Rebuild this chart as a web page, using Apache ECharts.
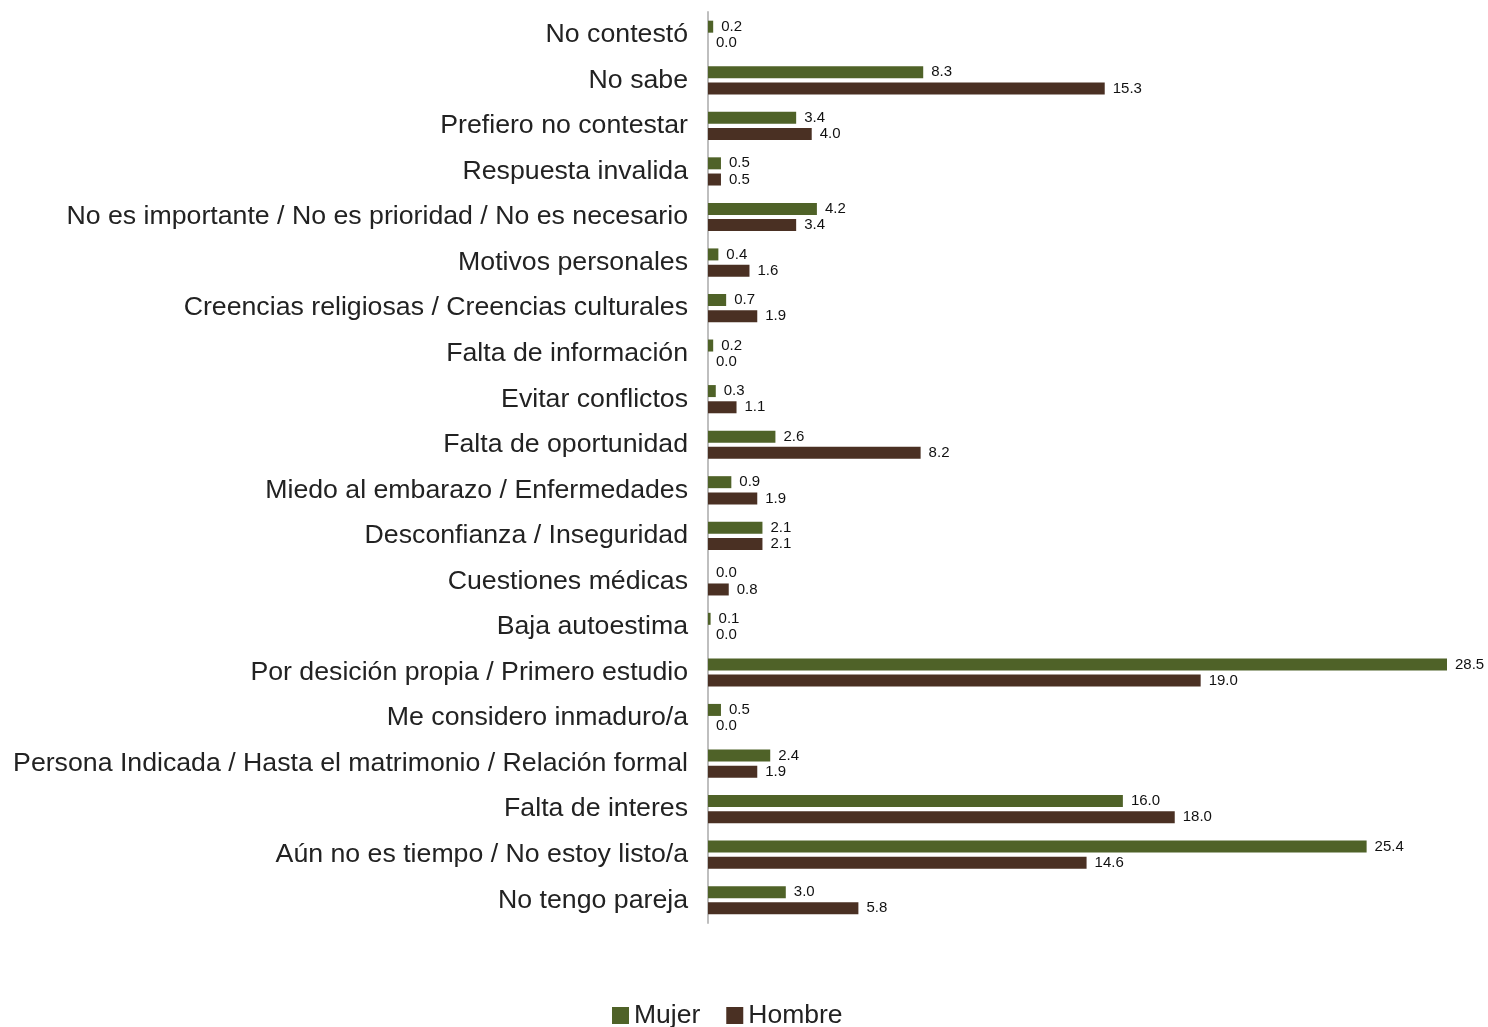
<!DOCTYPE html>
<html><head><meta charset="utf-8">
<script src="https://cdn.jsdelivr.net/npm/echarts@6/dist/echarts.min.js"></script>
<style>html,body{margin:0;padding:0;background:#fff}#c{width:1488px;height:1027px}</style>
</head><body><div id="c"></div>
<script>
const categories = ["No contestó","No sabe","Prefiero no contestar","Respuesta invalida","No es importante / No es prioridad / No es necesario","Motivos personales","Creencias religiosas / Creencias culturales","Falta de información","Evitar conflictos","Falta de oportunidad","Miedo al embarazo / Enfermedades","Desconfianza / Inseguridad","Cuestiones médicas","Baja autoestima","Por desición propia / Primero estudio","Me considero inmaduro/a","Persona Indicada / Hasta el matrimonio / Relación formal","Falta de interes","Aún no es tiempo / No estoy listo/a","No tengo pareja"];
const mujer = [0.2,8.3,3.4,0.5,4.2,0.4,0.7,0.2,0.3,2.6,0.9,2.1,0.0,0.1,28.5,0.5,2.4,16.0,25.4,3.0];
const hombre = [0.0,15.3,4.0,0.5,3.4,1.6,1.9,0.0,1.1,8.2,1.9,2.1,0.8,0.0,19.0,0.0,1.9,18.0,14.6,5.8];
const seriesNames = ["Mujer","Hombre"];
const FONT = "Liberation Sans, Arial, sans-serif";
const chart = echarts.init(document.getElementById('c'), null, {renderer:'canvas'});
const lbl = {show:true, position:'right', distance:8, fontSize:15, color:'#111', fontFamily:FONT,
  formatter: p => p.value.toFixed(1)};
chart.setOption({
  animation:false,
  grid:{left:708, right:41, top:12, bottom:104, containLabel:false},
  xAxis:{type:'value', min:0, max:28.5, show:false},
  yAxis:{type:'category', data:categories, inverse:true,
    axisLine:{show:true, lineStyle:{color:'#BFBFBF', width:2}},
    axisTick:{show:false},
    axisLabel:{fontSize:26.7, color:'#222', fontFamily:FONT, margin:20}},
  legend:{bottom:-7, left:607, itemWidth:17, itemHeight:17, itemGap:26,
    textStyle:{fontSize:26.5, color:'#222', fontFamily:FONT}, data:seriesNames, icon:'rect'},
  series:[
    {name:seriesNames[0], type:'bar', data:mujer, barWidth:12, barGap:'35%', itemStyle:{color:'#4F6228'}, label:lbl},
    {name:seriesNames[1], type:'bar', data:hombre, barWidth:12, barGap:'35%', itemStyle:{color:'#4A3023'}, label:lbl}
  ]
});
</script></body></html>
